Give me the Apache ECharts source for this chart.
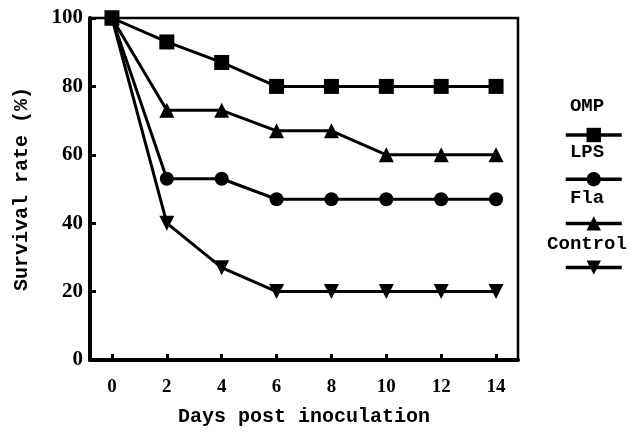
<!DOCTYPE html>
<html>
<head>
<meta charset="utf-8">
<script src="https://cdn.jsdelivr.net/npm/echarts@6/dist/echarts.min.js"></script>
<style>
  html, body { margin: 0; padding: 0; background: #fff; }
  #chart { width: 632px; height: 434px; }
</style>
</head>
<body>
<div id="chart"></div>
<script>
// data
var days = [0, 2, 4, 6, 8, 10, 12, 14];
var yTicks = [0, 20, 40, 60, 80, 100];
var names = ['OMP', 'LPS', 'Fla', 'Control'];
var omp = [100, 93, 87, 80, 80, 80, 80, 80];
var lps = [100, 53, 53, 47, 47, 47, 47, 47];
var fla = [100, 73, 73, 67, 67, 60, 60, 60];
var control = [100, 40, 27, 20, 20, 20, 20, 20];

var values = [omp, lps, fla, control];
var symbols = ['rect', 'circle', 'triangle', 'triangle'];
var rotates = [0, 0, 0, 180];

function pairs(arr) {
  return days.map(function (d, i) { return [d, arr[i]]; });
}

var monoFont = '"Liberation Mono", "DejaVu Sans Mono", monospace';
var serifFont = '"Liberation Serif", "DejaVu Serif", serif';

var myChart = echarts.init(document.getElementById('chart'));

var series = names.map(function (n, i) {
  return {
    name: n,
    type: 'line',
    data: pairs(values[i]),
    symbol: symbols[i],
    symbolRotate: rotates[i],
    symbolSize: i == 1 ? 14 : 15,
    color: '#000',
    lineStyle: { color: '#000', width: 3 },
    itemStyle: { color: '#000' },
    animation: false
  };
});

// legend text sits above each legend icon
var legendTop = 121, legendStep = 46;
var legendText = names.map(function (n, i) {
  return {
    type: 'text',
    x: 587,
    y: legendTop + i * legendStep - 15,
    style: {
      text: n,
      fill: '#000',
      font: 'bold 19px ' + monoFont,
      textAlign: 'center',
      textVerticalAlign: 'middle'
    }
  };
});

var option = {
  backgroundColor: '#fff',
  animation: false,
  grid: {
    left: 90, right: 114, top: 18, bottom: 74,
    show: true,
    borderColor: '#000',
    borderWidth: 2.5
  },
  legend: {
    orient: 'vertical',
    left: 559,
    top: legendTop,
    itemWidth: 56,
    itemHeight: 18,
    itemGap: 28,
    data: names,
    formatter: function () { return ''; },
    lineStyle: { width: 3.5, color: '#000' },
    selectedMode: false
  },
  graphic: legendText,
  xAxis: {
    type: 'value',
    min: -0.8,
    max: 14.8,
    name: 'Days post inoculation',
    nameLocation: 'middle',
    nameGap: 47,
    nameTextStyle: { color: '#000', fontFamily: monoFont, fontWeight: 'bold', fontSize: 20 },
    axisLine: { onZero: false, lineStyle: { color: '#000', width: 4 } },
    axisTick: { inside: true, length: 6, customValues: days, lineStyle: { color: '#000', width: 3 } },
    axisLabel: {
      customValues: days,
      margin: 18,
      color: '#000',
      fontFamily: serifFont,
      fontWeight: 'bold',
      fontSize: 19
    },
    splitLine: { show: false }
  },
  yAxis: {
    type: 'value',
    min: 0,
    max: 100,
    interval: 20,
    name: 'Survival rate (%)',
    nameLocation: 'middle',
    nameGap: 58,
    nameTextStyle: { color: '#000', fontFamily: monoFont, fontWeight: 'bold', fontSize: 20 },
    axisLine: { onZero: false, lineStyle: { color: '#000', width: 4 } },
    axisTick: { inside: true, length: 6, lineStyle: { color: '#000', width: 3 } },
    axisLabel: {
      customValues: yTicks,
      margin: 7,
      color: '#000',
      fontFamily: serifFont,
      fontWeight: 'bold',
      fontSize: 21
    },
    splitLine: { show: false }
  },
  series: series
};

myChart.setOption(option);
</script>
</body>
</html>
